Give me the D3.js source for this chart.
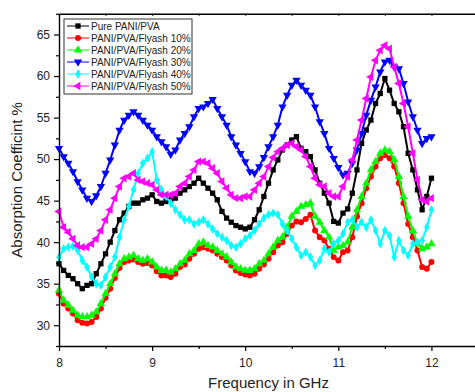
<!DOCTYPE html>
<html>
<head>
<meta charset="utf-8">
<script src="https://cdn.jsdelivr.net/npm/d3@7"></script>
<style>
  body { margin: 0; background: #fff; }
  text { font-family: "Liberation Sans", Arial, sans-serif; }
</style>
</head>
<body>
<div id="chart"></div>
<script>
// frequency grid (GHz)
const freq = [8.00, 8.05, 8.10, 8.15, 8.20, 8.25, 8.30, 8.35, 8.40, 8.45,
  8.50, 8.55, 8.60, 8.65, 8.70, 8.75, 8.80, 8.85, 8.90, 8.95,
  9.00, 9.05, 9.10, 9.15, 9.20, 9.25, 9.30, 9.35, 9.40, 9.45,
  9.50, 9.55, 9.60, 9.65, 9.70, 9.75, 9.80, 9.85, 9.90, 9.95,
  10.00, 10.05, 10.10, 10.15, 10.20, 10.25, 10.30, 10.35, 10.40, 10.45,
  10.50, 10.55, 10.60, 10.65, 10.70, 10.75, 10.80, 10.85, 10.90, 10.95,
  11.00, 11.05, 11.10, 11.15, 11.20, 11.25, 11.30, 11.35, 11.40, 11.45,
  11.50, 11.55, 11.60, 11.65, 11.70, 11.75, 11.80, 11.85, 11.90, 11.95, 12.00];

const purePva = [37.4, 36.6, 36.0, 35.6, 35.0, 34.4, 34.8, 35.0, 36.2, 37.4,
  38.6, 40.0, 41.4, 42.7, 43.5, 44.3, 44.7, 44.7, 45.1, 45.3,
  45.7, 44.9, 44.7, 44.9, 45.1, 45.3, 45.9, 46.3, 46.7, 47.1,
  47.7, 47.1, 46.5, 45.9, 45.1, 43.7, 42.9, 42.4, 42.0, 41.8,
  41.6, 41.8, 42.7, 43.9, 45.5, 47.1, 48.7, 49.9, 51.1, 51.7,
  52.3, 52.7, 51.3, 50.9, 50.3, 48.7, 47.1, 45.9, 44.7, 42.5,
  42.3, 43.5, 44.0, 45.9, 48.7, 51.9, 53.5, 54.7, 56.7, 57.9,
  59.7, 58.3, 56.7, 55.7, 53.9, 50.7, 48.7, 46.3, 43.9, 45.5, 47.7];

const flyash10 = [33.8, 32.6, 32.0, 31.4, 30.6, 30.3, 30.2, 30.4, 31.0, 32.0,
  33.3, 34.4, 35.7, 36.9, 37.6, 37.8, 37.9, 37.6, 37.4, 37.5,
  37.2, 36.5, 36.0, 36.0, 35.8, 36.2, 37.0, 37.3, 38.0, 38.6,
  39.2, 39.4, 39.2, 39.0, 38.6, 38.2, 37.8, 37.2, 36.6, 36.3,
  36.1, 36.0, 36.2, 36.8, 37.3, 38.0, 38.8, 39.6, 40.0, 41.0,
  42.0, 42.5, 42.4, 42.8, 43.3, 41.4, 40.6, 40.2, 39.2, 38.2,
  37.8, 38.8, 39.0, 40.6, 43.1, 44.7, 46.5, 47.9, 49.1, 50.1,
  50.5, 50.1, 49.1, 47.1, 44.7, 42.2, 40.6, 39.0, 37.0, 36.8, 37.6];

const flyash20 = [34.2, 33.0, 32.4, 31.8, 31.2, 31.0, 31.0, 31.2, 31.6, 32.6,
  33.8, 35.0, 36.2, 37.4, 38.0, 38.2, 38.4, 38.0, 37.8, 38.0,
  37.6, 37.0, 36.6, 36.6, 36.4, 36.8, 37.4, 37.8, 38.6, 39.0,
  39.8, 40.0, 39.6, 39.4, 39.0, 38.6, 38.2, 37.6, 37.0, 36.8,
  36.6, 36.6, 36.8, 37.4, 37.8, 38.6, 39.4, 40.2, 40.6, 41.8,
  43.1, 43.7, 44.3, 44.5, 44.7, 43.1, 42.4, 41.4, 40.6, 39.0,
  39.4, 39.6, 40.0, 41.8, 43.9, 45.5, 47.1, 48.7, 49.7, 50.7,
  51.1, 50.9, 49.9, 47.9, 45.5, 43.1, 41.4, 39.8, 39.2, 39.4, 39.8];

const flyash30 = [51.3, 50.3, 49.5, 48.5, 47.3, 46.3, 45.3, 44.9, 45.6, 46.7,
  48.3, 49.9, 51.7, 53.5, 54.7, 55.3, 55.7, 55.3, 54.7, 54.1,
  53.5, 52.7, 52.1, 51.5, 50.6, 51.1, 52.3, 53.1, 53.9, 55.1,
  56.1, 56.3, 56.7, 57.2, 56.1, 55.1, 54.1, 52.7, 51.7, 50.7,
  49.7, 48.5, 48.3, 49.1, 50.2, 51.5, 52.7, 54.1, 56.3, 57.7,
  58.9, 59.5, 58.9, 58.3, 57.7, 56.3, 54.5, 53.1, 51.3, 50.1,
  49.0, 48.1, 48.3, 49.5, 51.1, 53.1, 55.3, 57.1, 58.7, 60.5,
  61.7, 61.9, 61.1, 60.9, 59.1, 56.9, 55.1, 53.5, 51.9, 52.5, 52.7];

const flyash40 = [38.2, 39.2, 39.4, 39.5, 39.0, 37.8, 37.0, 35.8, 35.0, 34.8,
  35.8, 37.0, 38.2, 40.6, 42.7, 44.3, 46.3, 48.3, 49.5, 50.1,
  50.9, 47.5, 46.3, 45.5, 44.7, 43.9, 43.3, 42.7, 42.7, 42.2,
  42.4, 42.7, 42.2, 41.6, 41.0, 40.6, 40.2, 39.6, 39.4, 39.8,
  40.4, 40.8, 41.4, 42.2, 42.9, 43.3, 43.5, 43.3, 42.2, 41.4,
  40.4, 39.4, 38.4, 38.8, 38.2, 37.2, 37.8, 39.2, 38.8, 39.8,
  40.2, 41.0, 42.4, 42.7, 41.8, 42.4, 41.8, 42.7, 41.4, 39.8,
  41.4, 40.8, 38.2, 40.2, 39.0, 38.4, 39.8, 40.0, 40.2, 41.8, 43.9];

const flyash50 = [43.7, 41.8, 41.2, 40.4, 39.6, 39.4, 39.4, 39.8, 40.4, 41.4,
  42.7, 43.9, 45.3, 46.7, 47.7, 47.9, 48.3, 47.5, 47.3, 47.1,
  46.9, 46.3, 45.7, 45.7, 45.7, 45.9, 46.7, 47.1, 47.9, 48.7,
  49.7, 49.7, 49.5, 48.9, 48.3, 47.3, 46.5, 45.7, 45.3, 45.3,
  45.5, 45.5, 46.3, 47.1, 47.9, 49.1, 50.2, 50.9, 51.3, 51.7,
  51.9, 51.5, 51.1, 50.3, 49.1, 47.7, 46.9, 46.7, 45.9, 45.5,
  45.5, 46.7, 47.9, 49.9, 52.3, 54.7, 57.3, 59.9, 61.9, 63.1,
  63.7, 63.3, 61.1, 59.1, 56.7, 53.9, 50.7, 47.5, 45.1, 44.9, 45.3];

const seriesNames = ["Pure PANI/PVA", "PANI/PVA/Flyash 10%", "PANI/PVA/Flyash 20%",
  "PANI/PVA/Flyash 30%", "PANI/PVA/Flyash 40%", "PANI/PVA/Flyash 50%"];
const seriesValues = [purePva, flyash10, flyash20, flyash30, flyash40, flyash50];
const seriesColors = ["#000000", "#ff0000", "#00ff00", "#0000ff", "#00ffff", "#ff00ff"];

const xMajor = [8, 9, 10, 11, 12];
const xMinor = [8.5, 9.5, 10.5, 11.5];
const yMajor = [30, 35, 40, 45, 50, 55, 60, 65];
const yMinor = [27.5, 32.5, 37.5, 42.5, 47.5, 52.5, 57.5, 62.5, 67.5];

const width = 475, height = 392;
const margin = {top: 13.75, left: 59, bottom: 46, right: -3};

const svg = d3.select("#chart").append("svg")
    .attr("width", width)
    .attr("height", height);

const x = d3.scaleLinear().domain([8, 12.5]).range([margin.left, width - margin.right]);
const y = d3.scaleLinear().domain([27.5, 67.5]).range([height - margin.bottom, margin.top]);

// symbols per series
const symbols = [
  {type: d3.symbolSquare, rot: 0, size: 28},
  {type: d3.symbolCircle, rot: 0, size: 28},
  {type: d3.symbolTriangle, rot: 0, size: 30},
  {type: d3.symbolTriangle, rot: 180, size: 30},
  {type: d3.symbolDiamond, rot: 0, size: 26},
  {type: d3.symbolTriangle, rot: -90, size: 30}
];

const line = d3.line()
    .x((d, i) => x(freq[i]))
    .y(d => y(d));

seriesValues.forEach((vals, k) => {
  const g = svg.append("g").attr("class", "series");
  g.append("path")
    .datum(vals)
    .attr("fill", "none")
    .attr("stroke", seriesColors[k])
    .attr("stroke-width", 2)
    .attr("d", line);
  const sym = d3.symbol().type(symbols[k].type).size(symbols[k].size);
  g.selectAll("path.pt")
    .data(vals)
    .enter().append("path")
    .attr("class", "pt")
    .attr("d", sym)
    .attr("fill", seriesColors[k])
    .attr("transform", (d, i) => "translate(" + x(freq[i]) + "," + y(d) + ") rotate(" + symbols[k].rot + ")");
});

// axes
const axisW = 1.4;
const bottomG = svg.append("g").attr("transform", "translate(0," + y.range()[0] + ")");
bottomG.call(d3.axisBottom(x).tickValues(xMajor).tickSize(5).tickSizeOuter(0).tickFormat(d3.format("d")));
bottomG.append("g").call(d3.axisBottom(x).tickValues(xMinor).tickSize(3).tickFormat(""))
    .select(".domain").remove();

const leftG = svg.append("g").attr("transform", "translate(" + margin.left + ",0)");
leftG.call(d3.axisLeft(y).tickValues(yMajor).tickSize(5).tickSizeOuter(0).tickFormat(d3.format("d")));
leftG.append("g").call(d3.axisLeft(y).tickValues(yMinor).tickSize(3).tickFormat(""))
    .select(".domain").remove();

const topG = svg.append("g").attr("transform", "translate(0," + y.range()[1] + ")");
topG.call(d3.axisBottom(x).tickValues(xMajor.concat(xMinor)).tickSize(2).tickSizeOuter(0).tickFormat(""));

svg.selectAll(".domain").attr("stroke", "#000").attr("stroke-width", axisW);
svg.selectAll(".tick line").attr("stroke", "#000").attr("stroke-width", 1.2);
svg.selectAll(".tick text")
    .attr("fill", "#222")
    .style("font-size", "12px")
    .style("font-family", "'Liberation Sans', Arial, sans-serif");
bottomG.selectAll(".tick text").attr("dy", "1.05em");
leftG.selectAll(".tick text").attr("dx", "-1px");

// axis titles
const plotMidX = (x.range()[0] + x.range()[1]) / 2;
svg.append("text")
    .attr("x", plotMidX)
    .attr("y", 388)
    .attr("text-anchor", "middle")
    .style("font-size", "15px")
    .attr("fill", "#222")
    .text("Frequency in GHz");

svg.append("text")
    .attr("transform", "translate(22," + (y.range()[0] + y.range()[1]) / 2 + ") rotate(-90)")
    .attr("text-anchor", "middle")
    .style("font-size", "15px")
    .attr("fill", "#222")
    .text("Absorption Coefficint %");

// legend
const legend = svg.append("g").attr("transform", "translate(64,19)");
legend.append("rect")
    .attr("width", 128)
    .attr("height", 75)
    .attr("fill", "#fff")
    .attr("stroke", "#333")
    .attr("stroke-width", 1);

seriesNames.forEach((name, k) => {
  const row = legend.append("g").attr("transform", "translate(0," + (7 + k * 12) + ")");
  row.append("line")
    .attr("x1", 3).attr("x2", 25)
    .attr("stroke", seriesColors[k]).attr("stroke-width", 1);
  row.append("path")
    .attr("d", d3.symbol().type(symbols[k].type).size(symbols[k].size))
    .attr("fill", seriesColors[k])
    .attr("transform", "translate(14,0) rotate(" + symbols[k].rot + ")");
  row.append("text")
    .attr("x", 27)
    .attr("y", 0)
    .attr("dy", "0.35em")
    .style("font-size", "10px")
    .attr("fill", "#222")
    .text(name);
});
</script>
</body>
</html>
